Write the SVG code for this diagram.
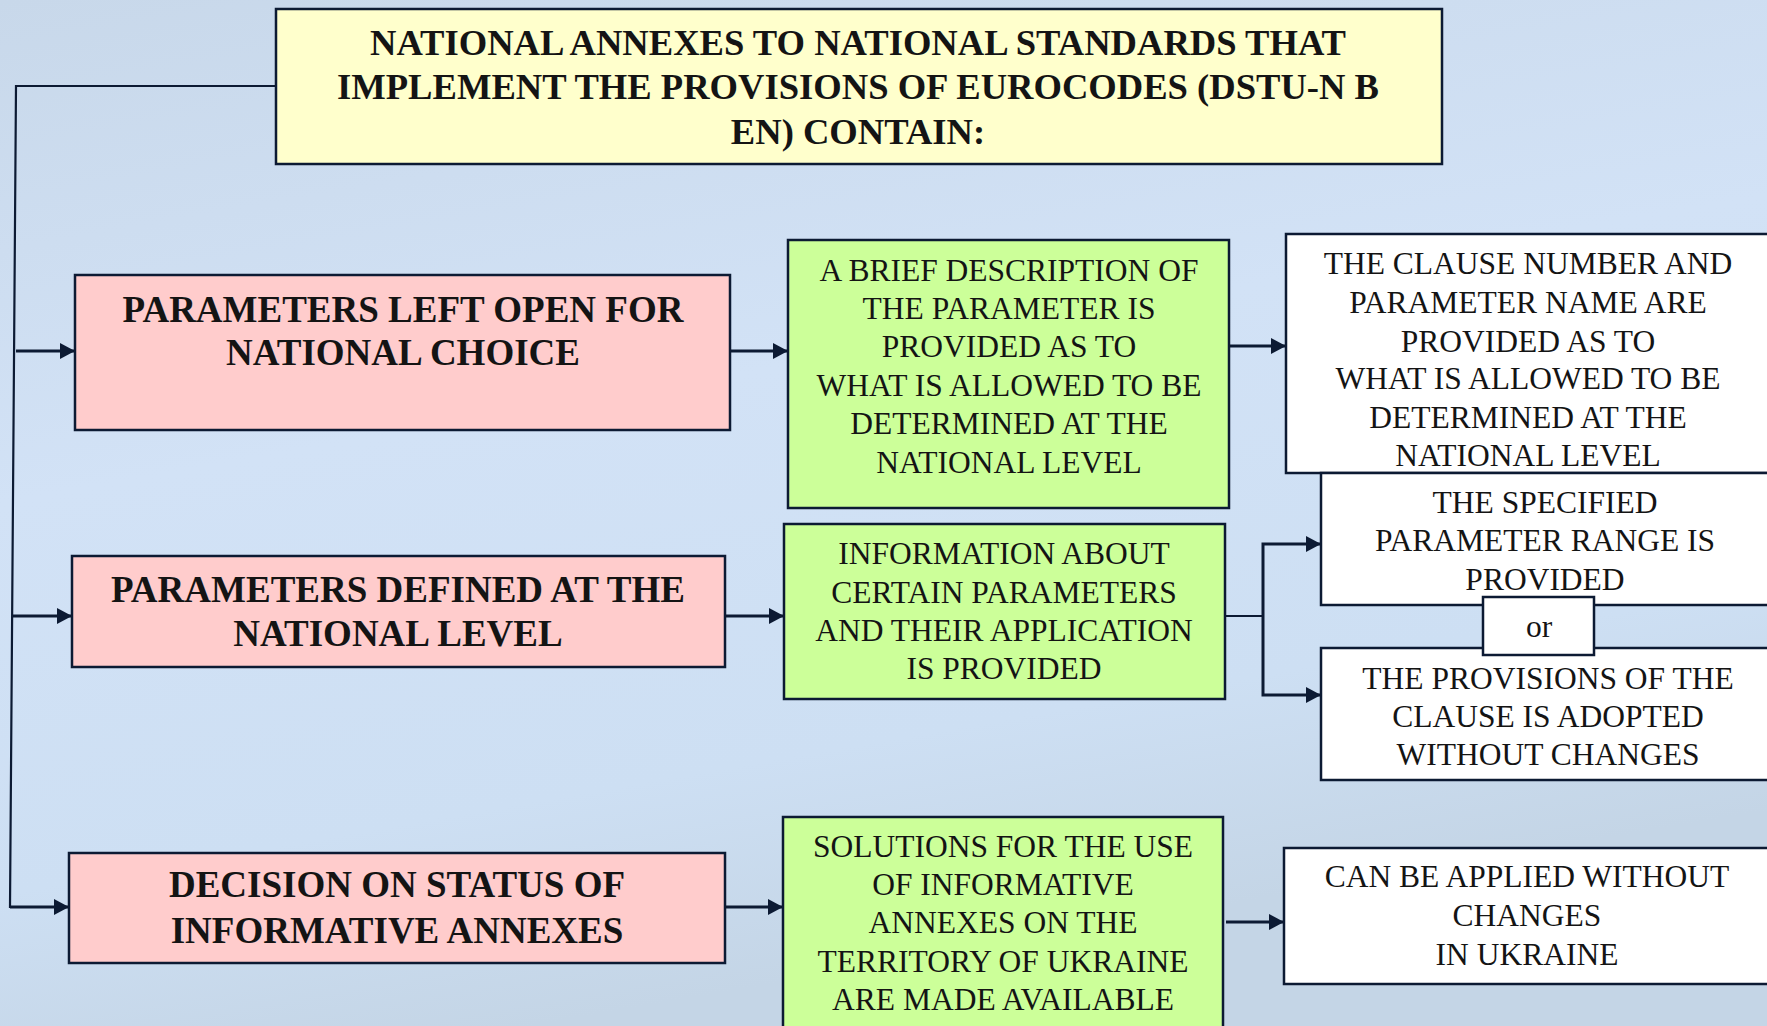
<svg xmlns="http://www.w3.org/2000/svg" width="1767" height="1026" viewBox="0 0 1767 1026">
<defs>
<linearGradient id="bg" x1="0" y1="0" x2="0.3" y2="1">
<stop offset="0" stop-color="#c8d8ea"/>
<stop offset="0.45" stop-color="#d2e2f6"/>
<stop offset="0.8" stop-color="#cddff3"/>
<stop offset="1" stop-color="#c4d5e6"/>
</linearGradient>
<marker id="ah" viewBox="0 0 15 16" refX="15" refY="8" markerWidth="15" markerHeight="16" markerUnits="userSpaceOnUse" orient="auto">
<path d="M0,0 L15,8 L0,16 z" fill="#0c1a33"/>
</marker>
<style>
.box{stroke:#0c1a33;stroke-width:2.5}
.yel{fill:#ffffcc}.pink{fill:#ffcccc}.green{fill:#ccff99}.white{fill:#ffffff}
.con{fill:none;stroke:#0c1a33;stroke-width:2.2}
.arr{fill:none;stroke:#0c1a33;stroke-width:3;marker-end:url(#ah)}
text{font-family:"Liberation Serif","Times New Roman",serif;fill:#141414;text-anchor:middle}
.b{font-weight:bold;font-size:37px}
.t{font-weight:bold;font-size:36.6px}
.r{font-size:31.5px}
</style>
</defs>
<rect x="0" y="0" width="1767" height="1026" fill="url(#bg)"/>

<g id="connectors">
<polyline class="con" points="276,86 16,86 10,908"/>
<line class="arr" x1="16" y1="351" x2="75" y2="351"/>
<line class="arr" x1="13" y1="616" x2="72" y2="616"/>
<line class="arr" x1="10" y1="907" x2="69" y2="907"/>
<line class="arr" x1="730" y1="351" x2="788" y2="351"/>
<line class="arr" x1="1229" y1="346" x2="1286" y2="346"/>
<line class="arr" x1="725" y1="616" x2="784" y2="616"/>
<polyline class="con" points="1225,616 1263,616"/>
<polyline class="arr" points="1263,616 1263,544 1321,544"/>
<polyline class="arr" points="1263,616 1263,695 1321,695"/>
<line class="arr" x1="725" y1="907" x2="783" y2="907"/>
<line class="arr" x1="1226" y1="922" x2="1284" y2="922"/>
</g>

<g id="title">
<rect class="box yel" x="276" y="9" width="1166" height="155"/>
<text class="t" x="858" y="55">NATIONAL ANNEXES TO NATIONAL STANDARDS THAT</text>
<text class="t" x="858" y="99">IMPLEMENT THE PROVISIONS OF EUROCODES (DSTU-N B</text>
<text class="t" x="858" y="144">EN) CONTAIN:</text>
</g>

<g id="pink1">
<rect class="box pink" x="75" y="275" width="655" height="155"/>
<text class="b" x="403" y="322">PARAMETERS LEFT OPEN FOR</text>
<text class="b" x="403" y="365">NATIONAL CHOICE</text>
</g>

<g id="pink2">
<rect class="box pink" x="72" y="556" width="653" height="111"/>
<text class="b" x="398" y="602">PARAMETERS DEFINED AT THE</text>
<text class="b" x="398" y="646">NATIONAL LEVEL</text>
</g>

<g id="pink3">
<rect class="box pink" x="69" y="853" width="656" height="110"/>
<text class="b" x="397" y="897">DECISION ON STATUS OF</text>
<text class="b" x="397" y="943">INFORMATIVE ANNEXES</text>
</g>

<g id="green1">
<rect class="box green" x="788" y="240" width="441" height="268"/>
<text class="r" x="1009" y="281">A BRIEF DESCRIPTION OF</text>
<text class="r" x="1009" y="319">THE PARAMETER IS</text>
<text class="r" x="1009" y="357">PROVIDED AS TO</text>
<text class="r" x="1009" y="396">WHAT IS ALLOWED TO BE</text>
<text class="r" x="1009" y="434">DETERMINED AT THE</text>
<text class="r" x="1009" y="473">NATIONAL LEVEL</text>
</g>

<g id="green2">
<rect class="box green" x="784" y="524" width="441" height="175"/>
<text class="r" x="1004" y="564">INFORMATION ABOUT</text>
<text class="r" x="1004" y="603">CERTAIN PARAMETERS</text>
<text class="r" x="1004" y="641">AND THEIR APPLICATION</text>
<text class="r" x="1004" y="679">IS PROVIDED</text>
</g>

<g id="green3">
<rect class="box green" x="783" y="817" width="440" height="230"/>
<text class="r" x="1003" y="857">SOLUTIONS FOR THE USE</text>
<text class="r" x="1003" y="895">OF INFORMATIVE</text>
<text class="r" x="1003" y="933">ANNEXES ON THE</text>
<text class="r" x="1003" y="972">TERRITORY OF UKRAINE</text>
<text class="r" x="1003" y="1010">ARE MADE AVAILABLE</text>
</g>

<g id="white1">
<rect class="box white" x="1286" y="234" width="500" height="239"/>
<text class="r" x="1528" y="274">THE CLAUSE NUMBER AND</text>
<text class="r" x="1528" y="313">PARAMETER NAME ARE</text>
<text class="r" x="1528" y="352">PROVIDED AS TO</text>
<text class="r" x="1528" y="389">WHAT IS ALLOWED TO BE</text>
<text class="r" x="1528" y="428">DETERMINED AT THE</text>
<text class="r" x="1528" y="466">NATIONAL LEVEL</text>
</g>

<g id="white2">
<rect class="box white" x="1321" y="473" width="470" height="132"/>
<text class="r" x="1545" y="513">THE SPECIFIED</text>
<text class="r" x="1545" y="551">PARAMETER RANGE IS</text>
<text class="r" x="1545" y="590">PROVIDED</text>
</g>

<g id="white3">
<rect class="box white" x="1321" y="648" width="470" height="132"/>
<text class="r" x="1548" y="689">THE PROVISIONS OF THE</text>
<text class="r" x="1548" y="727">CLAUSE IS ADOPTED</text>
<text class="r" x="1548" y="765">WITHOUT CHANGES</text>
</g>

<g id="or">
<rect class="box white" x="1483" y="597" width="111" height="58"/>
<text class="r" x="1539" y="637">or</text>
</g>

<g id="white4">
<rect class="box white" x="1284" y="848" width="500" height="136"/>
<text class="r" x="1527" y="887">CAN BE APPLIED WITHOUT</text>
<text class="r" x="1527" y="926">CHANGES</text>
<text class="r" x="1527" y="965">IN UKRAINE</text>
</g>
</svg>
